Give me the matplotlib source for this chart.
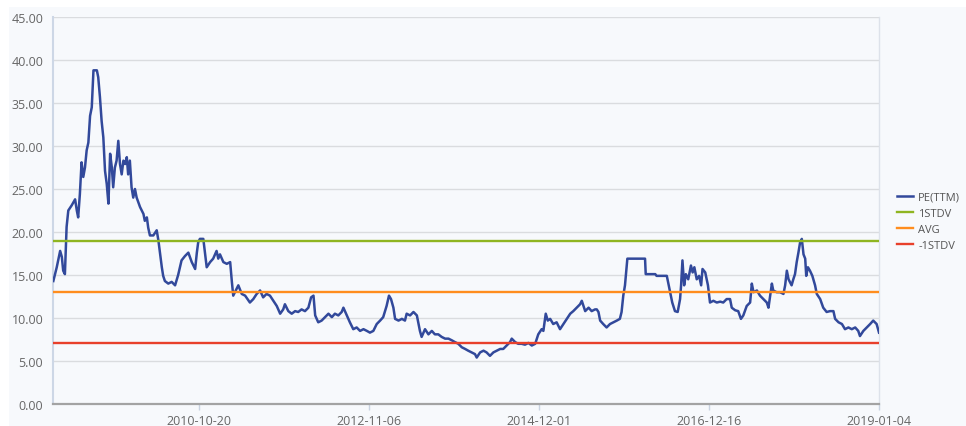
import matplotlib
matplotlib.use("Agg")
import matplotlib.pyplot as plt
from matplotlib.patches import Rectangle

# ---- data (trading-day index, PE value) ----
day_idx = [1, 11, 21, 26, 30, 35, 40, 45, 55, 65, 70, 74, 79, 84, 89, 94, 99, 104, 109, 114,
           119, 129, 133, 138, 143, 148, 153, 158, 163, 168, 173, 177, 182, 187, 192, 197, 202,
           207, 212, 217, 221, 226, 231, 236, 241, 246, 256, 266, 270, 276, 280, 285, 295, 305,
           310, 315, 320, 324, 329, 339, 349, 359, 368, 378, 388, 398, 408, 418, 423, 427, 432,
           442, 447, 452, 462, 471, 481, 486, 491, 501, 511, 521, 526, 530, 540, 545, 555, 565,
           579, 589, 599, 609, 618, 628, 638, 648, 658, 668, 677, 682, 692, 702, 712, 721, 731,
           741, 751, 759, 766, 771, 780, 790, 800, 810, 820, 829, 839, 849, 854, 864, 873, 883,
           893, 903, 913, 923, 932, 942, 952, 962, 971, 981, 988, 994, 1001, 1006, 1016, 1026,
           1035, 1040, 1050, 1060, 1070, 1079, 1084, 1094, 1104, 1114, 1123, 1133, 1143, 1153,
           1163, 1173, 1182, 1192, 1202, 1212, 1221, 1231, 1241, 1246, 1256, 1266, 1275, 1285,
           1295, 1305, 1315, 1324, 1334, 1344, 1349, 1359, 1368, 1378, 1388, 1398, 1408, 1418,
           1427, 1437, 1442, 1449, 1455, 1462, 1471, 1481, 1491, 1501, 1511, 1521, 1530, 1540,
           1550, 1555, 1565, 1575, 1584, 1594, 1599, 1604, 1609, 1618, 1628, 1638, 1648, 1658,
           1667, 1672, 1677, 1682, 1687, 1689, 1741, 1743, 1771, 1775, 1805, 1815, 1821, 1829,
           1837, 1844, 1847, 1851, 1856, 1861, 1868, 1876, 1881, 1886, 1893, 1900, 1906, 1910,
           1918, 1926, 1932, 1942, 1952, 1962, 1971, 1981, 1991, 1996, 2006, 2015, 2023, 2030,
           2040, 2050, 2055, 2060, 2070, 2079, 2089, 2099, 2104, 2109, 2114, 2118, 2128, 2138,
           2148, 2153, 2158, 2163, 2172, 2177, 2182, 2187, 2192, 2197, 2202, 2207, 2212, 2215,
           2220, 2226, 2233, 2241, 2246, 2256, 2265, 2275, 2285, 2295, 2300, 2310, 2320, 2329,
           2339, 2349, 2359, 2368, 2373, 2383, 2393, 2403, 2412, 2422, 2429]
pe_ttm = [14.3, 15.9, 17.8, 17.1, 15.5, 15.1, 20.6, 22.5, 23.1, 23.8, 22.5, 21.7, 24.4, 28.1,
          26.4, 27.5, 29.5, 30.4, 33.5, 34.5, 38.8, 38.8, 38.0, 35.7, 32.9, 31.0, 27.1, 25.6,
          23.3, 29.1, 27.5, 25.2, 27.5, 28.3, 30.6, 27.9, 26.7, 28.3, 27.9, 28.7, 26.7, 28.3,
          25.2, 24.0, 25.0, 24.0, 22.9, 22.1, 21.3, 21.7, 20.5, 19.6, 19.6, 20.2, 19.0, 17.4,
          15.9, 14.9, 14.3, 14.0, 14.2, 13.8, 15.0, 16.7, 17.2, 17.6, 16.5, 15.7, 17.6, 18.8,
          19.2, 19.2, 17.6, 15.9, 16.5, 16.9, 17.8, 16.9, 17.4, 16.5, 16.3, 16.5, 14.2, 12.6,
          13.4, 13.8, 12.8, 12.6, 11.8, 12.2, 12.8, 13.2, 12.4, 12.8, 12.6, 12.0, 11.4, 10.5,
          11.0, 11.6, 10.8, 10.5, 10.8, 10.7, 11.0, 10.8, 11.2, 12.4, 12.6, 10.3, 9.5, 9.7,
          10.1, 10.5, 10.1, 10.5, 10.3, 10.7, 11.2, 10.3, 9.5, 8.7, 8.9, 8.5, 8.7, 8.5, 8.3,
          8.5, 9.3, 9.7, 10.1, 11.4, 12.6, 12.2, 11.2, 9.9, 9.7, 9.9, 9.7, 10.5, 10.3, 10.7,
          10.3, 8.5, 7.8, 8.7, 8.1, 8.5, 8.1, 8.1, 7.8, 7.6, 7.6, 7.4, 7.2, 7.0, 6.6, 6.4, 6.2,
          6.0, 5.8, 5.4, 6.0, 6.2, 6.0, 5.6, 6.0, 6.2, 6.4, 6.4, 6.8, 7.2, 7.6, 7.2, 7.0, 7.0,
          6.9, 7.1, 6.8, 7.0, 8.1, 8.7, 8.5, 10.5, 9.7, 9.9, 9.3, 9.5, 8.7, 9.3, 9.9, 10.5,
          10.8, 11.2, 11.6, 12.0, 10.8, 11.2, 10.8, 11.0, 11.0, 10.7, 9.7, 9.3, 8.9, 9.3, 9.5,
          9.7, 9.9, 10.7, 12.6, 13.8, 16.1, 16.9, 16.9, 15.1, 15.1, 14.9, 14.9, 13.0, 11.8,
          10.8, 10.7, 12.2, 13.8, 16.7, 13.8, 15.1, 14.5, 16.1, 15.3, 15.9, 14.5, 14.9, 13.8,
          15.7, 15.3, 13.8, 11.8, 12.0, 11.8, 11.9, 11.8, 12.2, 12.2, 11.2, 10.9, 10.8, 9.9,
          10.3, 11.4, 11.8, 14.0, 13.0, 13.2, 12.6, 12.2, 11.8, 11.2, 12.6, 14.0, 13.2, 13.0,
          13.0, 12.8, 13.8, 15.5, 14.5, 13.8, 14.5, 15.1, 16.5, 17.6, 18.8, 19.2, 17.4, 16.9,
          14.9, 15.9, 15.5, 14.9, 13.8, 12.8, 12.2, 11.2, 10.7, 10.8, 10.8, 9.9, 9.5, 9.3, 8.7,
          8.9, 8.7, 8.9, 8.5, 7.9, 8.5, 8.9, 9.3, 9.7, 9.3, 8.3]

stdv_up = 18.9
avg = 13.0
stdv_dn = 7.1

tick_idx = [429, 929, 1429, 1929, 2429]
tick_labels = ["2010-10-20", "2012-11-06", "2014-12-01", "2016-12-16", "2019-01-04"]
y_ticks = [0, 5, 10, 15, 20, 25, 30, 35, 40, 45]

series_names = ["PE(TTM)", "1STDV", "AVG", "-1STDV"]
colors = ["#32499b", "#8fb521", "#ff8d1e", "#e8402b"]

# ---- figure ----
plt.rcParams['font.family'] = ['Open Sans', 'DejaVu Sans']
W, H = 966, 427
fig = plt.figure(figsize=(W / 100, H / 100), dpi=100, facecolor="white")
bg = "#f7f9fc"
fig.patches.append(Rectangle((9 / W, 0), 1 - 9 / W, 1 - 8 / H, transform=fig.transFigure,
                             facecolor=bg, edgecolor="none", zorder=-10))

ax = fig.add_axes([53 / W, 1 - 405 / H, (879 - 53) / W, (405 - 18) / H])
ax.set_facecolor(bg)

l0, = ax.plot(day_idx, pe_ttm, color=colors[0], lw=1.8, zorder=3, solid_joinstyle="round")
l1 = ax.axhline(stdv_up, color=colors[1], lw=1.7, zorder=4)
l2 = ax.axhline(avg, color=colors[2], lw=1.7, zorder=4)
l3 = ax.axhline(stdv_dn, color=colors[3], lw=1.7, zorder=4)

ax.set_xlim(0, 2429)
ax.set_ylim(0, 45)
ax.set_yticks(y_ticks)
ax.set_yticklabels([f"{v:.2f}" for v in y_ticks])
ax.set_xticks(tick_idx)
ax.set_xticklabels(tick_labels)

ax.grid(axis="y", color="#dadcdf", lw=1.0, zorder=0)
ax.set_axisbelow(True)
ax.tick_params(axis="y", length=0, pad=7, labelsize=9, labelcolor="#666666")
ax.tick_params(axis="x", length=4, width=1, color="#c9d3e2", pad=3, labelsize=9,
               labelcolor="#666666")

ax.spines["top"].set_visible(False)
ax.spines["left"].set_color("#cdd7e6")
ax.spines["left"].set_linewidth(1.5)
ax.spines["right"].set_color("#dde2ea")
ax.spines["right"].set_linewidth(1.0)
ax.spines["bottom"].set_color("#a3a3a3")
ax.spines["bottom"].set_linewidth(1.6)

fig.legend([l0, l1, l2, l3], series_names, loc="center left",
           bbox_to_anchor=(897 / W, 1 - 222.5 / H), frameon=False, fontsize=8,
           handlelength=1.45, handletextpad=0.45, labelspacing=0.45, borderpad=0,
           borderaxespad=0, labelcolor="#555555")

fig.savefig("out.png", dpi=100, facecolor="white")
